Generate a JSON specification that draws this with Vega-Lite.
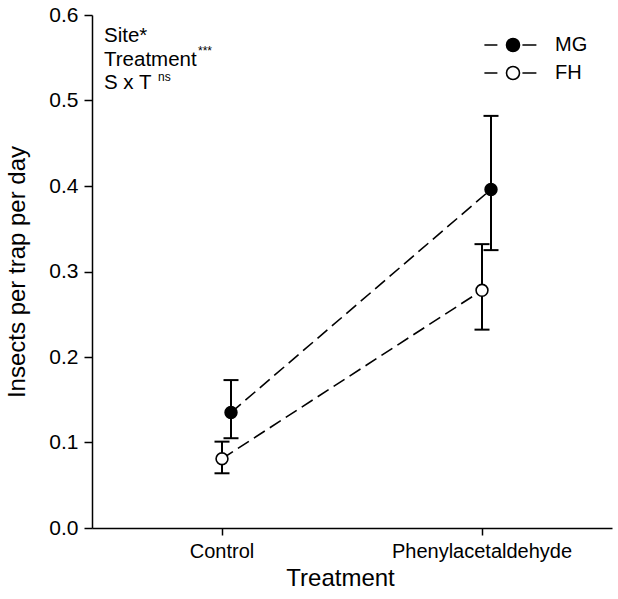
{
  "$schema": "https://vega.github.io/schema/vega-lite/v6.json",
  "autosize": {"type": "none"},
  "width": 520,
  "height": 513,
  "padding": {"left": 92, "top": 15, "right": 6, "bottom": 71},
  "background": "white",
  "config": {
    "view": {"stroke": null},
    "font": "Liberation Sans",
    "axis": {"domainColor": "black", "tickColor": "black", "labelColor": "black", "titleColor": "black", "domainWidth": 1.5, "tickWidth": 1.5, "grid": false, "labelFont": "Liberation Sans", "titleFont": "Liberation Sans", "titleFontWeight": "normal", "labelLimit": 0}
  },
  "datasets": {
    "means": [
      {"treatment": "Control", "site": "MG", "mean": 0.135, "lower": 0.105, "upper": 0.173},
      {"treatment": "Control", "site": "FH", "mean": 0.081, "lower": 0.064, "upper": 0.101},
      {"treatment": "Phenylacetaldehyde", "site": "MG", "mean": 0.396, "lower": 0.325, "upper": 0.482},
      {"treatment": "Phenylacetaldehyde", "site": "FH", "mean": 0.278, "lower": 0.232, "upper": 0.332}
    ]
  },
  "data": {"name": "means"},
  "encoding": {
    "x": {"field": "treatment", "type": "nominal", "sort": null,
      "scale": {"type": "band", "domain": ["Control", "Phenylacetaldehyde"], "paddingInner": 0, "paddingOuter": 0},
      "axis": {"title": "Treatment", "labelAngle": 0, "labelFontSize": 20, "labelLimit": 0, "titleFontSize": 24, "tickSize": 7, "labelPadding": 6, "titlePadding": 5, "titleX": 248}},
    "xOffset": {"field": "site", "type": "nominal", "scale": {"type": "point", "domain": ["FH", "MG"], "range": [130, 139], "padding": 0}}
  },
  "layer": [
    {
      "mark": {"type": "line", "color": "black", "strokeWidth": 1.6, "strokeDash": [13, 6]},
      "encoding": {
        "y": {"field": "mean", "type": "quantitative",
          "scale": {"domain": [0, 0.6], "nice": false, "zero": false},
          "axis": {"title": "Insects per trap per day", "values": [0, 0.1, 0.2, 0.3, 0.4, 0.5, 0.6], "format": ".1f", "labelFontSize": 21, "titleFontSize": 24, "tickSize": 8, "labelPadding": 6, "titlePadding": 19}},
        "detail": {"field": "site"}
      }
    },
    {
      "mark": {"type": "rule", "color": "black", "strokeWidth": 2},
      "encoding": {
        "y": {"field": "lower", "type": "quantitative"},
        "y2": {"field": "upper"}
      }
    },
    {
      "mark": {"type": "tick", "color": "black", "thickness": 2, "size": 15, "orient": "horizontal", "opacity": 1},
      "encoding": {"y": {"field": "lower", "type": "quantitative"}}
    },
    {
      "mark": {"type": "tick", "color": "black", "thickness": 2, "size": 15, "orient": "horizontal", "opacity": 1},
      "encoding": {"y": {"field": "upper", "type": "quantitative"}}
    },
    {
      "mark": {"type": "point", "shape": "circle", "size": 140, "filled": true, "stroke": "black", "strokeWidth": 1.6, "opacity": 1},
      "encoding": {
        "y": {"field": "mean", "type": "quantitative"},
        "fill": {"field": "site", "type": "nominal",
          "scale": {"domain": ["MG", "FH"], "range": ["black", "white"]},
          "legend": {"title": null, "orient": "none", "legendX": 411, "legendY": 20, "padding": 0,
            "symbolType": "M-4.4,0H-2.4M-1,0A1,1,0,1,0,1,0A1,1,0,1,0,-1,0M1.45,0H3.6",
            "symbolSize": 169, "symbolStrokeColor": "black", "symbolStrokeWidth": 1.6, "symbolOpacity": 1,
            "labelFontSize": 20, "labelFont": "Liberation Sans", "labelColor": "black", "labelOffset": 32, "rowPadding": 8}}
      }
    },
    {
      "data": {"values": [
        {"label": "Site*", "yv": 0.5684},
        {"label": "Treatment", "yv": 0.5404},
        {"label": "S x T", "yv": 0.5135}
      ]},
      "mark": {"type": "text", "align": "left", "baseline": "alphabetic", "fontSize": 20.5, "font": "Liberation Sans", "color": "black", "dx": 12},
      "encoding": {
        "x": {"datum": "Control", "bandPosition": 0},
        "xOffset": null,
        "y": {"field": "yv", "type": "quantitative"},
        "text": {"field": "label"}
      }
    },
    {
      "data": {"values": [{"sup": "***", "yv": 0.553}]},
      "mark": {"type": "text", "align": "left", "baseline": "alphabetic", "fontSize": 12, "font": "Liberation Sans", "color": "black", "dx": 106},
      "encoding": {
        "x": {"datum": "Control", "bandPosition": 0},
        "xOffset": null,
        "y": {"field": "yv", "type": "quantitative"},
        "text": {"field": "sup"}
      }
    },
    {
      "data": {"values": [{"sup": "ns", "yv": 0.5225}]},
      "mark": {"type": "text", "align": "left", "baseline": "alphabetic", "fontSize": 12, "font": "Liberation Sans", "color": "black", "dx": 66},
      "encoding": {
        "x": {"datum": "Control", "bandPosition": 0},
        "xOffset": null,
        "y": {"field": "yv", "type": "quantitative"},
        "text": {"field": "sup"}
      }
    }
  ]
}
